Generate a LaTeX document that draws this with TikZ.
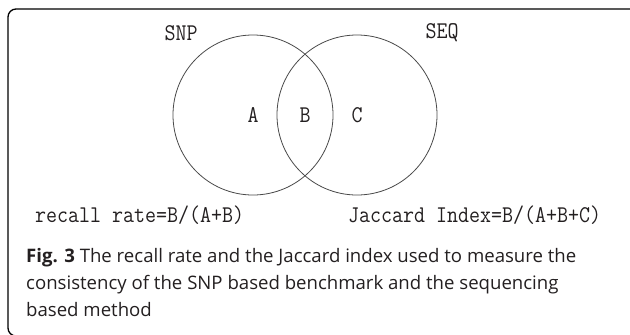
\documentclass[tikz,border=0pt]{standalone}
\usepackage{fontspec}
\setmainfont{Open Sans}
\newfontfamily\simfont[FakeStretch=0.89]{Latin Modern Mono}
\usetikzlibrary{positioning}
\definecolor{vgray}{HTML}{4A4A4A}
\definecolor{captext}{HTML}{231F20}

\begin{document}
\begin{tikzpicture}[x=1pt, y=-1pt,
    venn/.style={circle, draw=vgray, line width=0.8pt, minimum size=160pt, inner sep=0pt},
    lbl/.style={font=\simfont\fontsize{24}{24}\selectfont, text=captext, inner sep=0pt}]
        \useasboundingbox (0,0) rectangle (630,335);

        % frame
        \draw[line width=1.3pt, rounded corners=8pt] (8,9) rectangle (640,336);

        % circles
        \node[venn] (snp) at (253,115) {};
        \node[venn] (seq) at (357,115) {};

        \node[lbl] (snpname) at (181,33) {SNP};
        \node[lbl] (seqname) at (442,33) {SEQ};

        \node[lbl] (a) at (snp.center) {A};
        \node[lbl] (b) at (305,115) {B};
        \node[lbl] (c) at (seq.center) {C};

        % formulas
        \node[lbl, anchor=base west] (recall) at (35,222) {recall rate=B/(A+B)};
        \node[lbl, anchor=base west] (jaccard) at (348,222) {Jaccard Index=B/(A+B+C)};

        % caption
        \node[anchor=north west, align=left, inner sep=0pt, text=captext,
              font=\fontsize{18.6}{26.7}\selectfont] (caption) at (26,248.5)
              {\textbf{Fig. 3} The recall rate and the Jaccard index used to measure the\\
               consistency of the SNP based benchmark and the sequencing\\
               based method};
\end{tikzpicture}
\end{document}
